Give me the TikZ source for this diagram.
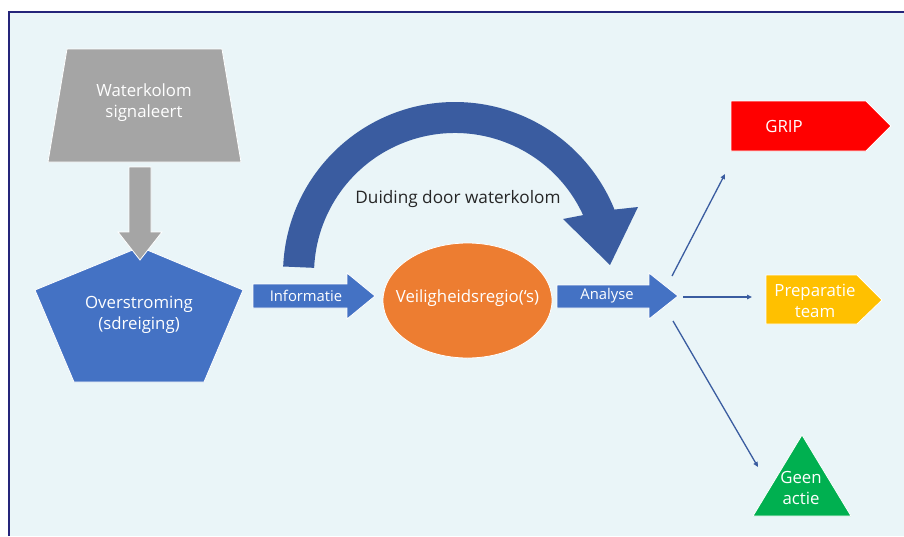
\documentclass[tikz,border=0pt]{standalone}
\usepackage{fontspec}
\setmainfont{Open Sans}
\usetikzlibrary{arrows.meta,calc}
\definecolor{bgfill}{HTML}{EAF5F8}
\definecolor{framecol}{HTML}{25257A}
\definecolor{greyshape}{HTML}{A5A5A5}
\definecolor{bluebox}{HTML}{4472C4}
\definecolor{darkarc}{HTML}{3A5CA0}
\definecolor{orangeov}{HTML}{ED7D31}
\definecolor{gripred}{HTML}{FF0000}
\definecolor{prepgold}{HTML}{FFC000}
\definecolor{geengreen}{HTML}{00B050}
\definecolor{labeltext}{HTML}{262626}
\begin{document}
\begin{tikzpicture}[x=1pt,y=-1pt,
  shapeface/.style={draw=white, line width=0.8pt, line join=miter},
  inlabel/.style={text=white, font=\fontsize{16.8}{21}\selectfont, align=center, inner sep=0pt},
  arrowlabel/.style={text=white, font=\fontsize{14.8}{18}\selectfont, inner sep=0pt},
  thinlink/.style={draw=darkarc, line width=1.3pt, -{Triangle[length=5pt,width=4.5pt]}}
]
\useasboundingbox (0,0) rectangle (904,536);
% page and framed panel
\fill[white] (0,0) rectangle (904,536);
\fill[bgfill] (9,12) rectangle (904,536);
\draw[framecol, line width=1.5pt] (9,536) -- (9,12) -- (904,12);

% curved block arrow over the middle
\fill[darkarc] (455,274) ++(-177.5:172) arc[start angle=-177.5, end angle=-22, radius=172]
  -- (638,207) -- (610,265) -- (563,219)
  -- ($(455,274)+(-24.7:141)$) arc[start angle=-24.7, end angle=-177.5, radius=141] -- cycle;
\node[text=labeltext, font=\fontsize{17.2}{20}\selectfont, inner sep=0pt] (duiding) at (458,199) {Duiding door waterkolom};

% source: trapezium
\filldraw[shapeface, fill=greyshape] (67,49) -- (222,49) -- (241,162) -- (48,162) -- cycle;
\node[inlabel] (signal) at (144,103) {Waterkolom\\signaleert};

% pentagon
\filldraw[shapeface, fill=bluebox] (140,247) -- (243,290) -- (204,382) -- (74,382) -- (35,290) -- cycle;
\node[inlabel] (flood) at (139,315) {Overstroming\\(sdreiging)};

% grey down arrow
\filldraw[shapeface, fill=greyshape] (129,167) -- (151,167) -- (151,232) -- (162,232) -- (140,260)
  -- (118,232) -- (129,232) -- cycle;

% Informatie block arrow
\filldraw[shapeface, fill=bluebox] (253,284) -- (347,284) -- (347,273) -- (375,296) -- (347,319)
  -- (347,308) -- (253,308) -- cycle;
\node[arrowlabel] (info) at (306,296) {Informatie};

% region ellipse
\filldraw[shapeface, fill=orangeov] (467.5,300.5) ellipse [x radius=84.5, y radius=57.5];
\node[inlabel] (region) at (467.5,298) {Veiligheidsregio(‘s)};

% Analyse block arrow
\filldraw[shapeface, fill=bluebox] (557,285) -- (649,285) -- (649,273) -- (678,296) -- (649,319)
  -- (649,308) -- (557,308) -- cycle;
\node[arrowlabel] (analyse) at (607,296) {Analyse};

% outcomes
\filldraw[shapeface, fill=gripred] (731,101) -- (866,101) -- (891,126) -- (866,151) -- (731,151) -- cycle;
\node[inlabel] (grip) at (784,126) {GRIP};

\filldraw[shapeface, fill=prepgold] (766,275) -- (857,275) -- (882,300) -- (857,324) -- (766,324) -- cycle;
\node[inlabel] (prep) at (815,301) {Preparatie\\team};

\filldraw[shapeface, fill=geengreen] (802,435) -- (851,516) -- (753,516) -- cycle;
\node[inlabel] (geen) at (801,488) {Geen\\actie};

% fan of thin connectors
\coordinate (fanUp) at (672,276);
\coordinate (fanMid) at (683,297);
\coordinate (fanLow) at (673,321);
\coordinate (toGrip) at (725,174);
\coordinate (toPrep) at (752,297);
\coordinate (toGeen) at (758,467);
\draw[thinlink] (fanUp) -- (toGrip);
\draw[thinlink] (fanMid) -- (toPrep);
\draw[thinlink] (fanLow) -- (toGeen);
\end{tikzpicture}
\end{document}
